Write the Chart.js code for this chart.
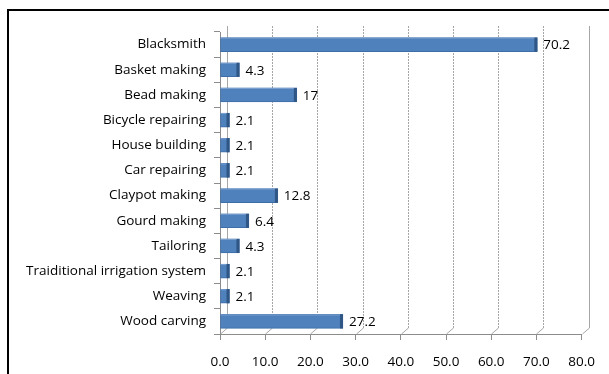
<!DOCTYPE html>
<html>
<head>
<meta charset="utf-8">
<script src="https://cdn.jsdelivr.net/npm/chart.js@4"></script>
<style>
  body { margin: 0; background: #fff; }
  #frame { position: absolute; left: 7px; top: 9px; width: 602px; height: 365px;
           border-left: 2px solid #000; border-top: 2px solid #000; }
  #wrap { position: absolute; left: 0; top: 0; width: 609px; height: 374px; }
</style>
</head>
<body>
<div id="frame"></div>
<div id="wrap"><canvas id="myChart" width="609" height="374"></canvas></div>
<script>
const categories = ['Blacksmith', 'Basket making', 'Bead making', 'Bicycle repairing', 'House building',
  'Car repairing', 'Claypot making', 'Gourd making', 'Tailoring', 'Traiditional irrigation system',
  'Weaving', 'Wood carving'];
const values = [70.2, 4.3, 17, 2.1, 2.1, 2.1, 12.8, 6.4, 4.3, 2.1, 2.1, 27.2];
const valueLabels = ['70.2', '4.3', '17', '2.1', '2.1', '2.1', '12.8', '6.4', '4.3', '2.1', '2.1', '27.2'];
const xTicks = [0, 10, 20, 30, 40, 50, 60, 70, 80];

const fontFam = "'Open Sans', 'Liberation Sans', sans-serif";
const depth = 7;

// back wall gridlines (fake 3d look like excel)
const backWall = {
  id: 'backWall',
  beforeDatasetsDraw(chart) {
    const { ctx, chartArea } = chart;
    const x = chart.scales.x;
    const top = chartArea.top - 6;
    const bottom = chartArea.bottom - 6;
    ctx.save();
    ctx.lineWidth = 1;
    xTicks.forEach((v, i) => {
      const px = Math.round(x.getPixelForValue(v)) + depth + 0.5;
      ctx.strokeStyle = '#a6a6a6';
      if (i === 0 || i === xTicks.length - 1) ctx.setLineDash([]);
      else ctx.setLineDash([2, 1]);
      ctx.beginPath();
      ctx.moveTo(px, top);
      ctx.lineTo(px, bottom);
      ctx.stroke();
      ctx.setLineDash([]);
      ctx.beginPath();
      ctx.moveTo(px, bottom);
      ctx.lineTo(px - depth, chartArea.bottom);
      ctx.stroke();
    });
    ctx.restore();
  }
};

// right end cap + value labels
const barExtras = {
  id: 'barExtras',
  afterDatasetsDraw(chart) {
    const { ctx } = chart;
    const meta = chart.getDatasetMeta(0);
    ctx.save();
    meta.data.forEach((bar, i) => {
      const h = bar.height;
      ctx.fillStyle = '#2f5684';
      ctx.fillRect(bar.x - 3, bar.y - h / 2, 3, h);
      ctx.fillStyle = '#7fa3d1';
      ctx.fillRect(bar.base, bar.y - h / 2, bar.x - bar.base - 3, 1);
      ctx.fillStyle = '#000';
      ctx.font = '13.5px ' + fontFam;
      ctx.textBaseline = 'middle';
      ctx.textAlign = 'left';
      ctx.fillText(valueLabels[i], bar.x + 6, bar.y + 1);
    });
    ctx.restore();
  }
};

const ctx = document.getElementById('myChart');
new Chart(ctx, {
  type: 'bar',
  data: {
    labels: categories,
    datasets: [{
      data: values,
      backgroundColor: '#4f81bd',
      borderColor: '#3d6ea8',
      borderWidth: 1,
      borderSkipped: false,
      barThickness: 14
    }]
  },
  options: {
    indexAxis: 'y',
    responsive: false,
    animation: false,
    layout: { padding: { top: 32, right: 26, bottom: 0, left: 0 } },
    plugins: { legend: { display: false }, tooltip: { enabled: false } },
    scales: {
      x: {
        min: 0, max: 80,
        ticks: {
          stepSize: 10, color: '#000', padding: 14,
          font: { family: fontFam, size: 13.5 },
          callback: v => v.toFixed(1)
        },
        grid: { drawOnChartArea: false, drawTicks: true, tickLength: 6, color: '#8c8c8c' },
        border: { color: '#8c8c8c' },
        afterFit: s => { s.height = 40; }
      },
      y: {
        ticks: { color: '#000', padding: 8, font: { family: fontFam, size: 13.5 } },
        grid: { drawOnChartArea: false, drawTicks: true, tickLength: 6, offset: true, color: '#8c8c8c' },
        border: { color: '#8c8c8c' },
        afterFit: s => { s.width = 220; }
      }
    }
  },
  plugins: [backWall, barExtras]
});
</script>
</body>
</html>
